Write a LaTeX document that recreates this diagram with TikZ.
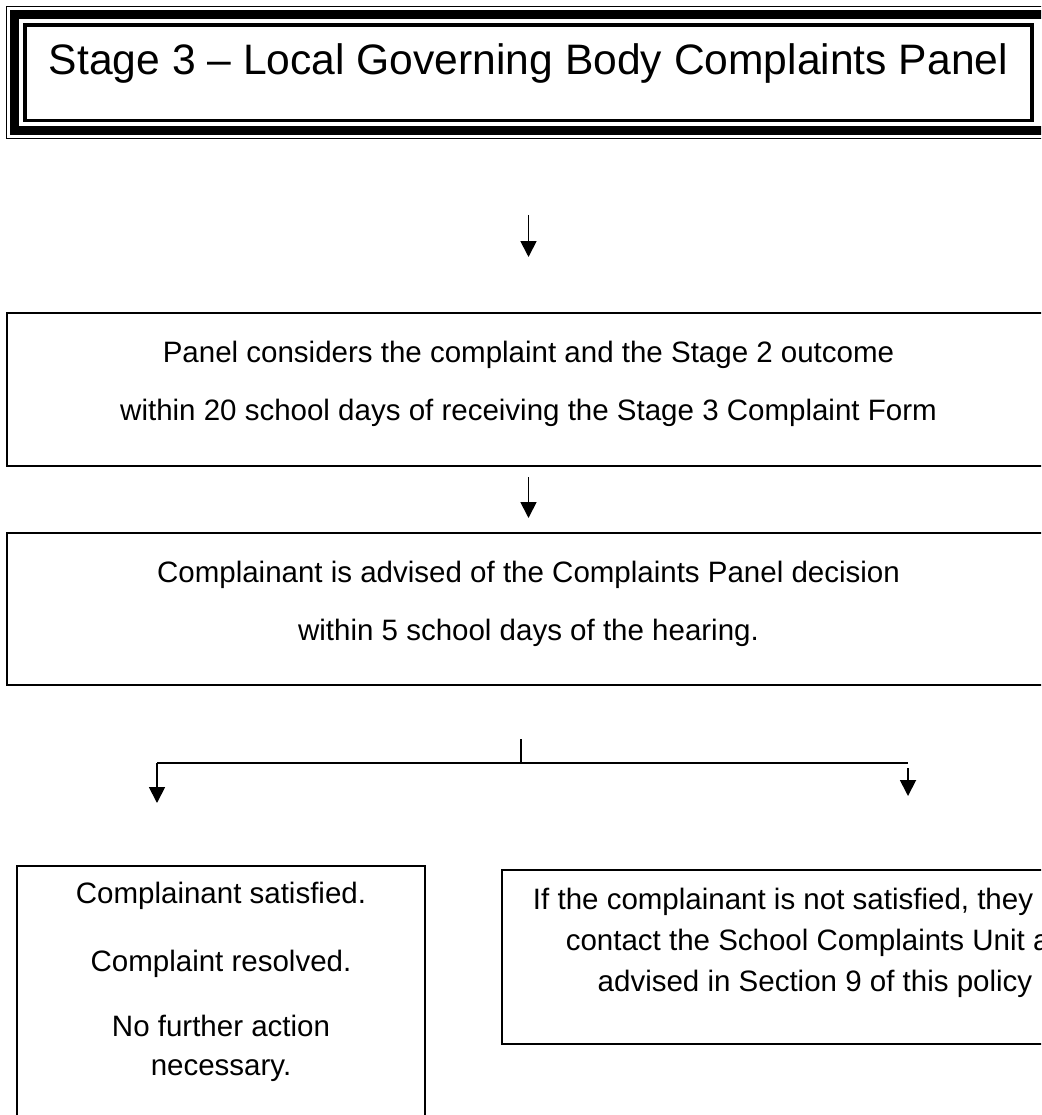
\documentclass[tikz,border=0pt]{standalone}
\usepackage{fontspec}
\setmainfont{Liberation Sans}
\usetikzlibrary{arrows.meta}
\usetikzlibrary{calc}

\begin{document}
\begin{tikzpicture}[x=1pt,y=-1pt,
  box/.style={draw,line width=1.8pt,inner sep=0,outer sep=0,anchor=north west},
  txt/.style={align=center,anchor=base,inner sep=0,font={\fontsize{29.5}{38.5}\selectfont}},
  arr/.style={line width=1.8pt,-{Triangle[width=16pt,length=16pt]}},
  link/.style={line width=1.8pt}]

  \useasboundingbox (0,0) rectangle (1041,1115);
  \clip (0,0) rectangle (1041,1115);

  % title with its triple frame
  \node[box,line width=3.5pt,minimum width=1007pt,minimum height=95.5pt] (title) at (25,25) {};
  \draw[line width=9pt] ([xshift=-10.5pt,yshift=10.5pt]title.north west) rectangle ([xshift=30pt,yshift=-10.5pt]title.south east);
  \draw[line width=1.3pt] ([xshift=-18.3pt,yshift=18.3pt]title.north west) rectangle ([xshift=40pt,yshift=-18.3pt]title.south east);
  \node[anchor=base,inner sep=0,font={\fontsize{42.6}{50}\selectfont}] (titletext) at ([yshift=-50pt]title.north) {Stage 3 – Local Governing Body Complaints Panel};

  \node[box,minimum width=1043pt,minimum height=153pt] (consider) at (7,313) {};
  \node[txt] (considertext) at ([yshift=-107pt]consider.north) {Panel considers the complaint and the Stage 2 outcome\\[19pt]
    within 20 school days of receiving the Stage 3 Complaint Form};

  \node[box,minimum width=1043pt,minimum height=152pt] (advised) at (7,533) {};
  \node[txt] (advisedtext) at ([yshift=-107pt]advised.north) {Complainant is advised of the Complaints Panel decision\\[19pt]
    within 5 school days of the hearing.};

  \node[box,minimum width=408pt,minimum height=260pt] (satisfied) at (17,866) {};
  \node[txt] (satisfiedtext) at ([yshift=-209pt]satisfied.north) {Complainant satisfied.\\[29pt]
    Complaint resolved.\\[27pt] No further action\\ necessary.};

  \node[box,minimum width=626pt,minimum height=174pt] (unit) at (502,870) {};
  \node[txt,font={\fontsize{29.5}{41}\selectfont}] (unittext) at ([yshift=-121pt]unit.north) {If the complainant is not satisfied, they may\\
    contact the School Complaints Unit as\\ advised in Section 9 of this policy};

  \coordinate (split) at (521,739);
  \coordinate (fork) at (521,763);
  \coordinate (lturn) at (157,763);
  \coordinate (rturn) at (908,763);

  \draw[arr,shorten <=94.5pt,shorten >=56pt] (title.south) -- (consider.north);
  \draw[arr,shorten <=11pt,shorten >=15pt] (consider.south) -- (advised.north);
  \draw[link] (split) -- (fork);
  \draw[link] (lturn) -- (rturn);
  \draw[arr,shorten >=63pt] (lturn) -- (lturn |- satisfied.north);
  \draw[arr,shorten >=74pt] ([yshift=-5pt]rturn) -- (rturn |- unit.north);
\end{tikzpicture}
\end{document}
